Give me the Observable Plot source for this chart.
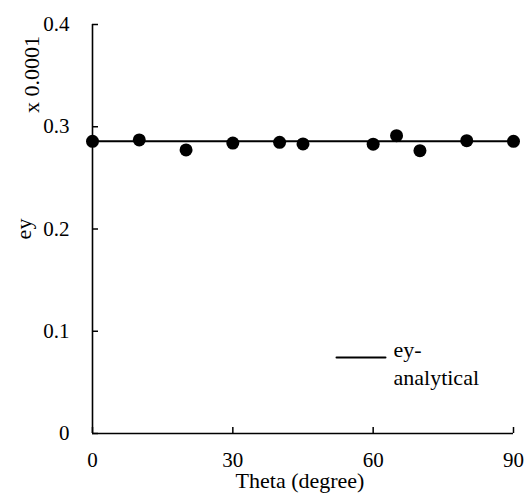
<!DOCTYPE html>
<html>
<head>
<meta charset="utf-8">
<script src="https://cdn.jsdelivr.net/npm/d3@7"></script>
<script src="https://cdn.jsdelivr.net/npm/@observablehq/plot@0.6"></script>
<style>
  html, body { margin: 0; padding: 0; background: #fff; }
  #chart svg { display: block; }
</style>
</head>
<body>
<div id="chart"></div>
<script>
// Strain ey versus loading angle theta (values in units of 0.0001)
const theta = [0, 10, 20, 30, 40, 45, 60, 65, 70, 80, 90];
const eyMeasured = [0.2857, 0.2871, 0.2773, 0.2840, 0.2848, 0.2832, 0.2830, 0.2913, 0.2766, 0.2864, 0.2857];

// Analytical solution: constant across the angle range
const analyticalTheta = [0, 90];
const analyticalEy = [0.2857, 0.2857];

const xTicks = [0, 30, 60, 90];
const yTicks = [0, 0.1, 0.2, 0.3, 0.4];
const yTickLabels = ["0", "0.1", "0.2", "0.3", "0.4"];

const measured = theta.map((t, i) => ({theta: t, ey: eyMeasured[i]}));
const analytical = analyticalTheta.map((t, i) => ({theta: t, ey: analyticalEy[i]}));

const font = '"Liberation Serif", "Times New Roman", serif';

// plain stroke (no arrowhead) for the legend key
const plainStroke = {
  draw(context, l) { context.moveTo(0, 0); context.lineTo(0, -l); }
};

const chart = Plot.plot({
  width: 527,
  height: 502,
  marginLeft: 92,
  marginRight: 14,
  marginTop: 24,
  marginBottom: 69,
  style: {fontFamily: font, fontSize: "21px", color: "#000", background: "#fff"},
  x: {domain: [0, 90]},
  y: {domain: [0, 0.4]},
  marks: [
    Plot.axisX(xTicks, {tickSize: -6, tickPadding: 25, label: null, fontSize: 21,
      stroke: "#000", strokeWidth: 1.5}),
    Plot.axisY(yTicks, {tickSize: -6, tickPadding: 29, label: null, fontSize: 21,
      stroke: "#000", strokeWidth: 1.5,
      tickFormat: (d) => yTickLabels[yTicks.indexOf(d)]}),
    Plot.ruleX([0], {stroke: "#000", strokeWidth: 1.6}),
    Plot.ruleY([0], {stroke: "#000", strokeWidth: 1.6}),
    Plot.line(analytical, {x: "theta", y: "ey", stroke: "#000", strokeWidth: 2}),
    Plot.dot(measured, {x: "theta", y: "ey", r: 6.5, fill: "#000", stroke: "none"}),
    // axis titles
    Plot.text(["Theta (degree)"], {frameAnchor: "bottom", dx: -3, dy: 54, fontSize: 22, fill: "#000"}),
    Plot.text(["ey"], {frameAnchor: "left", dx: -69, rotate: -90, textAnchor: "middle", fontSize: 22, fill: "#000"}),
    Plot.text(["x 0.0001"], {frameAnchor: "top-left", dx: -69, dy: 50, rotate: -90, textAnchor: "middle", fontSize: 22, fill: "#000"}),
    // legend
    Plot.vector([0], {frameAnchor: "bottom-left", dx: 244, dy: -76, length: 49, rotate: 90,
      anchor: "start", shape: plainStroke, stroke: "#000", strokeWidth: 2}),
    Plot.text(["ey-"], {frameAnchor: "bottom-left", dx: 301, dy: -77, textAnchor: "start", fontSize: 22, fill: "#000"}),
    Plot.text(["analytical"], {frameAnchor: "bottom-left", dx: 301, dy: -49, textAnchor: "start", fontSize: 22, fill: "#000"})
  ]
});

document.getElementById("chart").appendChild(chart);
</script>
</body>
</html>
